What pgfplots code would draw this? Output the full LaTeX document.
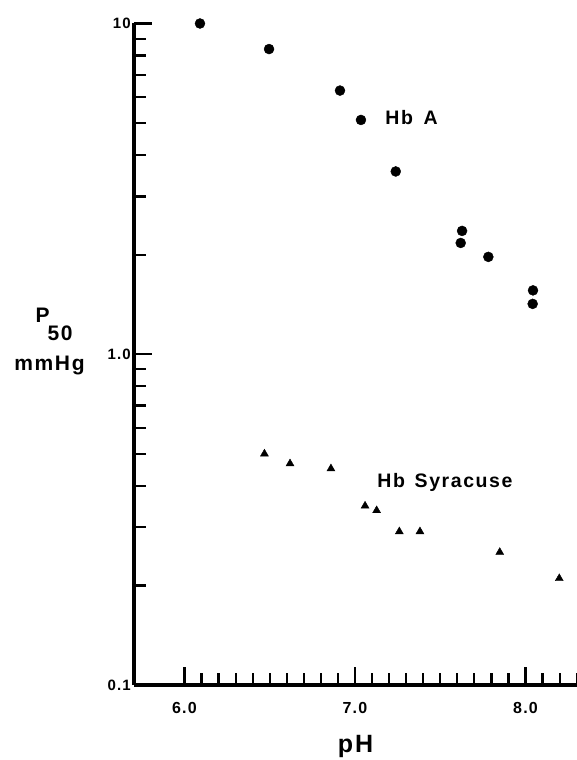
\documentclass[border=0pt]{standalone}
\usepackage{fontspec}
\setmainfont{Liberation Sans}[LetterSpace=8]
\usepackage{pgfplots}
\pgfplotsset{compat=1.18}

\begin{document}
\begin{tikzpicture}
\begin{axis}[
    scale only axis,
    width=443pt, height=661.5pt,
    ymode=log,
    xmin=5.704, xmax=8.302,
    ymin=0.1, ymax=10,
    axis x line*=bottom, axis y line*=left,
    axis line style={-, line width=4.2pt},
    tick pos=left,
    tick align=inside,
    xtick={6,7,8},
    xticklabels={6.0,7.0,8.0},
    minor xtick={6.1,6.2,6.3,6.4,6.5,6.6,6.7,6.8,6.9,7.1,7.2,7.3,7.4,7.5,7.6,7.7,7.8,7.9,8.1,8.2,8.3},
    ytick={0.1,1,10},
    yticklabels={0.1,\raisebox{-6pt}{1.0},10},
    minor ytick={0.2,0.3,0.4,0.5,0.6,0.7,0.8,0.9,2,3,4,5,6,7,8,9},
    major tick length=18pt, minor tick length=12pt,
    tick style={black, line width=2.2pt},
    xticklabel style={font=\fontsize{16}{16}\selectfont\bfseries, yshift=-14pt},
    yticklabel style={font=\fontsize{15}{15}\selectfont\bfseries, inner sep=3pt},
    clip=false,
]
% Hb A
\addplot[only marks, mark=*, mark size=5pt, black] coordinates {
    (6.091,10.0) (6.496,8.37) (6.912,6.27) (7.035,5.11) (7.239,3.57)
    (7.628,2.36) (7.620,2.17) (7.782,1.97) (8.044,1.56) (8.042,1.42)
};
% Hb Syracuse
\addplot[only marks, mark=triangle*, mark size=4.6pt, black] coordinates {
    (6.469,0.500) (6.619,0.467) (6.859,0.451) (7.059,0.348) (7.127,0.337)
    (7.260,0.291) (7.381,0.291) (7.849,0.252) (8.198,0.210)
};

\node[anchor=base west, font=\fontsize{19.5}{20}\selectfont\bfseries]
    at (axis cs:7.158,4.94) {Hb\hspace{0.55em}A};
\node[anchor=base west, font=\fontsize{19.5}{20}\selectfont\bfseries]
    at (axis cs:7.111,0.395) {Hb\hspace{0.5em}Syracuse};

\coordinate (O) at (rel axis cs:0,0);
\node[anchor=base west, xshift=-102pt, yshift=363pt, font=\fontsize{21}{21}\selectfont\bfseries]
    at (rel axis cs:0,0) {P};
\node[anchor=base west, xshift=-90pt, yshift=345pt, font=\fontsize{21}{21}\selectfont\bfseries]
    at (rel axis cs:0,0) {50};
\node[anchor=base, xshift=-84.5pt, yshift=315pt, font=\fontsize{21}{21}\selectfont\bfseries]
    at (rel axis cs:0,0) {mmHg};
\node[anchor=base, yshift=-67pt, font=\fontsize{25}{25}\selectfont\bfseries]
    at (rel axis cs:0.5,0) {pH};
\end{axis}
\pgfresetboundingbox
\path[use as bounding box] ([shift={(-134pt,-75pt)}]O) rectangle ([shift={(443pt,685pt)}]O);
\end{tikzpicture}
\end{document}
